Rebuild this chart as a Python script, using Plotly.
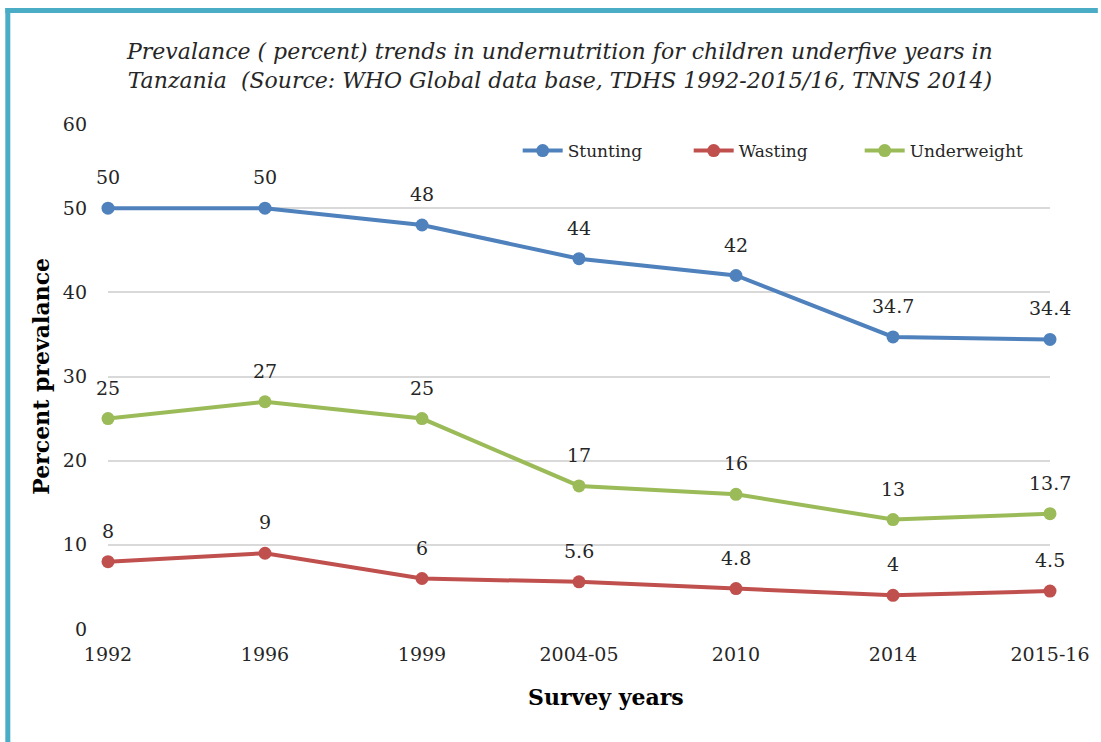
import plotly.graph_objects as go

# Survey rounds and prevalence (%) of undernutrition among children under five
survey_years = ["1992", "1996", "1999", "2004-05", "2010", "2014", "2015-16"]
stunting = [50, 50, 48, 44, 42, 34.7, 34.4]
wasting = [8, 9, 6, 5.6, 4.8, 4, 4.5]
underweight = [25, 27, 25, 17, 16, 13, 13.7]
y_ticks = [0, 10, 20, 30, 40, 50, 60]

series = [
    ("Stunting", stunting, "#4F81BD"),
    ("Wasting", wasting, "#C0504D"),
    ("Underweight", underweight, "#9BBB59"),
]

SERIF = "DejaVu Serif, Liberation Serif, serif"
TEXT = "#262626"

fig = go.Figure()
annotations = []
for name, values, color in series:
    fig.add_trace(go.Scatter(
        x=list(range(len(survey_years))), y=values, name=name,
        mode="lines+markers", cliponaxis=False,
        line=dict(color=color, width=4),
        marker=dict(color=color, size=13),
    ))
    for i, v in enumerate(values):
        annotations.append(dict(
            x=i, y=v, xref="x", yref="y", text=f"{v:g}", showarrow=False,
            yshift=31, font=dict(family=SERIF, size=19, color=TEXT),
        ))

annotations += [
    dict(text="Prevalance ( percent) trends in undernutrition for children underfive years in<br>"
              "Tanzania  (Source: WHO Global data base, TDHS 1992-2015/16, TNNS 2014)",
         xref="paper", yref="paper", x=(561 - 108) / 945, y=(629 - 66) / 505,
         xanchor="center", yanchor="middle", showarrow=False, align="center",
         font=dict(family=SERIF, size=22, color=TEXT, style="italic")),
    dict(text="<b>Survey years</b>", xref="paper", yref="paper",
         x=(608 - 108) / 945, y=-(697 - 629) / 505, xanchor="center", yanchor="middle",
         showarrow=False, font=dict(family=SERIF, size=22, color="#000000")),
    dict(text="<b>Percent prevalance</b>", xref="paper", yref="paper",
         x=-(108 - 40) / 945, y=0.5, xanchor="center", yanchor="middle", textangle=-90,
         showarrow=False, font=dict(family=SERIF, size=22, color="#000000")),
]

# Teal frame along the top and left edges
shapes = [
    dict(type="line", xref="paper", yref="paper",
         x0=-(108 - 5) / 945, x1=(1101 - 108) / 945,
         y0=(629 - 10.5) / 505, y1=(629 - 10.5) / 505,
         line=dict(color="#4BACC6", width=5)),
    dict(type="line", xref="paper", yref="paper",
         x0=-(108 - 7.5) / 945, x1=-(108 - 7.5) / 945,
         y0=(629 - 8) / 505, y1=-(742 - 629) / 505,
         line=dict(color="#4BACC6", width=5)),
]

fig.update_layout(
    width=1101, height=742,
    margin=dict(l=108, r=48, t=124, b=113),
    paper_bgcolor="white", plot_bgcolor="white",
    showlegend=True,
    legend=dict(orientation="h", x=(519 - 108) / 945, xanchor="left", y=(629 - 151) / 505,
                yanchor="middle", font=dict(family=SERIF, size=17, color=TEXT),
                bgcolor="rgba(0,0,0,0)", itemwidth=40,
                entrywidth=116, entrywidthmode="pixels"),
    annotations=annotations,
    shapes=shapes,
    xaxis=dict(tickmode="array", tickvals=list(range(len(survey_years))),
               ticktext=survey_years, range=[0, len(survey_years) - 1],
               showgrid=False, zeroline=False, showline=False,
               tickfont=dict(family=SERIF, size=19, color=TEXT), ticklen=0,
               ticklabelstandoff=12),
    yaxis=dict(range=[0, 60], tickvals=y_ticks, showgrid=True, gridcolor="#D9D9D9",
               gridwidth=1.5, zeroline=False, showline=False,
               tickfont=dict(family=SERIF, size=19, color=TEXT), ticklen=0,
               ticklabelstandoff=20),
)

fig.write_html("out.html")
